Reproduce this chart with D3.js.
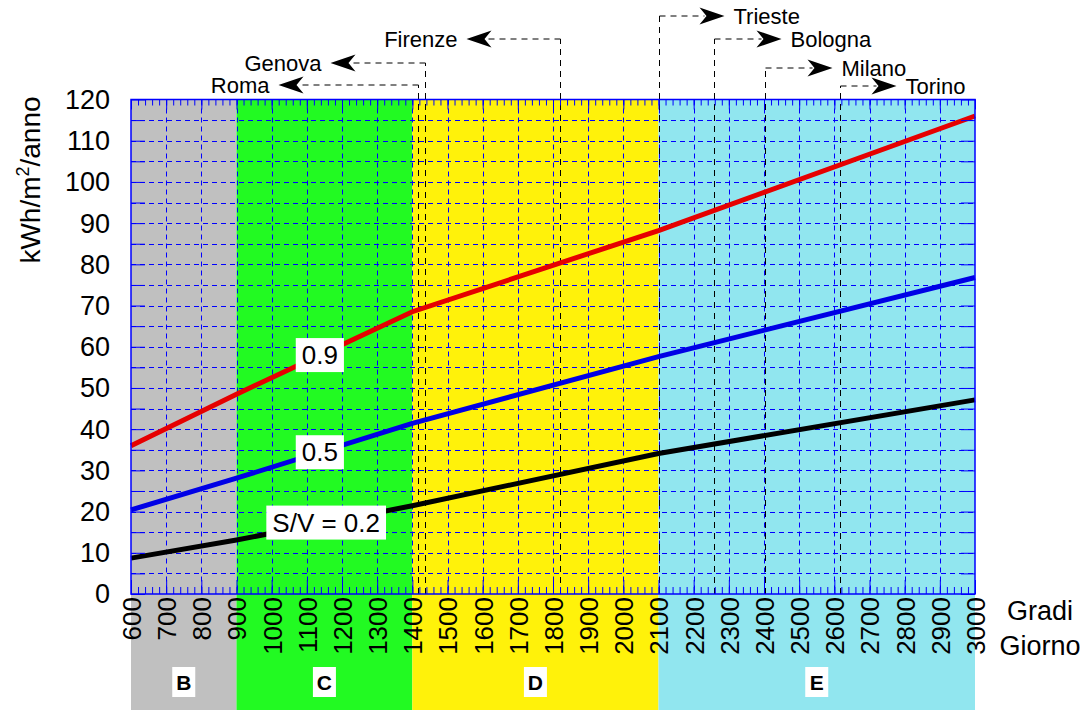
<!DOCTYPE html>
<html>
<head>
<meta charset="utf-8">
<script src="https://cdn.jsdelivr.net/npm/d3@7"></script>
<style>
  body { margin: 0; background: #fff; }
  svg { font-family: "Liberation Sans", Arial, sans-serif; }
</style>
</head>
<body>
<script>
// gradi giorno breakpoints and the three S/V curves
var gradiGiorno = [600, 900, 1400, 2100, 3000];
var sv09 = [36, 48.5, 68.5, 88.2, 116];
var sv05 = [20.4, 28.1, 41.4, 57.6, 76.8];
var sv02 = [8.7, 13.1, 21.4, 34.1, 47.1];

// climate zones
var zoneNames = ["B", "C", "D", "E"];
var zoneFrom = [600, 900, 1400, 2100];
var zoneTo = [900, 1400, 2100, 3000];
var zoneColors = ["#c0c0c0", "#22fa22", "#fff20a", "#91e6ef"];

// cities and their gradi giorno
var cityNames = ["Roma", "Genova", "Firenze", "Trieste", "Bologna", "Milano", "Torino"];
var cityGG = [1415, 1435, 1821, 2102, 2259, 2404, 2617];

// tick values
var xTicks = d3.range(600, 3001, 100);
var xMinor = d3.range(600, 3001, 20);
var yTicks = d3.range(0, 121, 10);
var yMinor = d3.range(0, 121, 5);

var width = 1085, height = 710;
var plotL = 131, plotR = 975, plotT = 99.5, plotB = 594;

var x = d3.scaleLinear().domain([600, 3000]).range([plotL, plotR]);
var y = d3.scaleLinear().domain([0, 120]).range([plotB, plotT]);

var svg = d3.select("body").append("svg")
  .attr("width", width)
  .attr("height", height);

// zone bands, running down under the tick labels
svg.append("g").selectAll("rect")
  .data(zoneNames)
  .enter().append("rect")
  .attr("x", function(d, i) { return x(zoneFrom[i]); })
  .attr("width", function(d, i) { return x(zoneTo[i]) - x(zoneFrom[i]); })
  .attr("y", plotT)
  .attr("height", height - plotT)
  .attr("fill", function(d, i) { return zoneColors[i]; });

// dashed grid
var grid = svg.append("g")
  .attr("stroke", "#0000ff")
  .attr("stroke-width", 1)
  .attr("stroke-dasharray", "5,4");
grid.selectAll(".gx")
  .data(xTicks.slice(1, -1))
  .enter().append("line")
  .attr("x1", function(d) { return Math.round(x(d)) + 0.5; })
  .attr("x2", function(d) { return Math.round(x(d)) + 0.5; })
  .attr("y1", plotT).attr("y2", plotB);
grid.selectAll(".gy")
  .data(yMinor.slice(1, -1))
  .enter().append("line")
  .attr("y1", function(d) { return Math.round(y(d)) + 0.5; })
  .attr("y2", function(d) { return Math.round(y(d)) + 0.5; })
  .attr("x1", plotL).attr("x2", plotR);

// city annotation layout: level above the plot and where the arrow tip lands
var cityLevel = [85, 63, 39, 16, 39, 68, 86];
var cityReach = [-140, -95, -94, 65, 67, 67, 56];

var cities = svg.append("g");
cityNames.forEach(function(name, i) {
  var cx = Math.round(x(cityGG[i])) + 0.5;
  var ly = cityLevel[i];
  var dir = cityReach[i] < 0 ? -1 : 1;
  var tip = cx + cityReach[i];
  cities.append("line")
    .attr("x1", cx).attr("x2", cx)
    .attr("y1", plotB).attr("y2", ly)
    .attr("stroke", "#000").attr("stroke-width", 1)
    .attr("stroke-dasharray", "6,5");
  cities.append("line")
    .attr("x1", cx).attr("x2", tip - dir * 20)
    .attr("y1", ly).attr("y2", ly)
    .attr("stroke", "#000").attr("stroke-width", 1)
    .attr("stroke-dasharray", "6,5");
  cities.append("path")
    .attr("transform", "translate(" + tip + "," + ly + ") scale(" + (-dir) + ",1)")
    .attr("d", "M0,0 L25,-8.5 L18,0 L25,8.5 Z")
    .attr("fill", "#000");
  cities.append("text")
    .attr("x", tip + dir * 9)
    .attr("y", ly)
    .attr("dy", "0.35em")
    .attr("text-anchor", dir < 0 ? "end" : "start")
    .attr("font-size", 22)
    .text(name);
});

// curves
var curves = [
  { values: sv09, color: "#e60000", label: "0.9", at: 1137 },
  { values: sv05, color: "#0000e6", label: "0.5", at: 1137 },
  { values: sv02, color: "#000000", label: "S/V = 0.2", at: 1155 }
];
var line = d3.line()
  .x(function(d) { return x(d[0]); })
  .y(function(d) { return y(d[1]); });

curves.forEach(function(c) {
  svg.append("path")
    .datum(d3.zip(gradiGiorno, c.values))
    .attr("d", line)
    .attr("fill", "none")
    .attr("stroke", c.color)
    .attr("stroke-width", 5);
});

// white boxed curve labels sitting on the curves
curves.forEach(function(c) {
  var v = d3.scaleLinear().domain(gradiGiorno).range(c.values)(c.at);
  var g = svg.append("g")
    .attr("transform", "translate(" + x(c.at) + "," + y(v) + ")");
  var t = g.append("text")
    .attr("text-anchor", "middle")
    .attr("dy", "0.35em")
    .attr("font-size", 26)
    .text(c.label);
  var bb = t.node().getBBox();
  g.insert("rect", "text")
    .attr("x", bb.x - 6).attr("width", bb.width + 12)
    .attr("y", -17).attr("height", 34)
    .attr("fill", "#fff");
});

// inward ticks on all four sides
function ticks(axis, transform) {
  var g = svg.append("g").attr("transform", transform).call(axis);
  g.select(".domain").remove();
  g.selectAll("line").attr("stroke", "#0000ff").attr("stroke-width", 1);
  return g;
}
ticks(d3.axisTop(x).tickValues(xMinor).tickSize(7).tickFormat(""), "translate(0," + plotB + ")");
ticks(d3.axisTop(x).tickValues(xTicks).tickSize(14).tickFormat(""), "translate(0," + plotB + ")");
ticks(d3.axisBottom(x).tickValues(xMinor).tickSize(6).tickFormat(""), "translate(0," + plotT + ")");
ticks(d3.axisBottom(x).tickValues(xTicks).tickSize(10).tickFormat(""), "translate(0," + plotT + ")");
ticks(d3.axisRight(y).tickValues(yMinor).tickSize(14).tickFormat(""), "translate(" + plotL + ",0)");
ticks(d3.axisLeft(y).tickValues(yMinor).tickSize(14).tickFormat(""), "translate(" + plotR + ",0)");

// frame
svg.append("rect")
  .attr("x", plotL).attr("y", plotT)
  .attr("width", plotR - plotL).attr("height", plotB - plotT)
  .attr("fill", "none")
  .attr("stroke", "#0000ff")
  .attr("stroke-width", 1.5);

// tick labels
var xLab = svg.append("g")
  .attr("transform", "translate(0," + plotB + ")")
  .call(d3.axisBottom(x).tickValues(xTicks).tickSize(0).tickFormat(d3.format("d")));
xLab.select(".domain").remove();
xLab.selectAll("text")
  .attr("font-size", 26)
  .attr("font-family", null)
  .attr("fill", "#000")
  .attr("transform", "rotate(-90)")
  .attr("text-anchor", "end")
  .attr("x", -3)
  .attr("y", 0)
  .attr("dy", "0.36em");

var yLab = svg.append("g")
  .attr("transform", "translate(" + plotL + ",0)")
  .call(d3.axisLeft(y).tickValues(yTicks).tickSize(0).tickPadding(21));
yLab.select(".domain").remove();
yLab.selectAll("text")
  .attr("font-size", 27)
  .attr("font-family", null)
  .attr("fill", "#000")
  .attr("dy", "0.33em");

// axis titles
var yTitle = svg.append("text")
  .attr("transform", "translate(40,180) rotate(-90)")
  .attr("text-anchor", "middle")
  .attr("font-size", 28);
yTitle.append("tspan").text("kWh/m");
yTitle.append("tspan").attr("font-size", 18).attr("dy", -11).text("2");
yTitle.append("tspan").attr("dy", 11).text("/anno");

svg.append("text")
  .attr("x", 1040).attr("y", 620)
  .attr("text-anchor", "middle")
  .attr("font-size", 27)
  .text("Gradi");
svg.append("text")
  .attr("x", 1040).attr("y", 655)
  .attr("text-anchor", "middle")
  .attr("font-size", 27)
  .text("Giorno");

// zone letters in white boxes
var zl = svg.append("g").selectAll("g")
  .data(zoneNames)
  .enter().append("g")
  .attr("transform", function(d, i) { return "translate(" + x((zoneFrom[i] + zoneTo[i]) / 2) + ",682)"; });
zl.append("rect")
  .attr("x", -11.5).attr("y", -15)
  .attr("width", 23).attr("height", 30)
  .attr("fill", "#fff");
zl.append("text")
  .attr("text-anchor", "middle")
  .attr("dy", "0.36em")
  .attr("font-size", 21)
  .attr("font-weight", "bold")
  .text(function(d) { return d; });
</script>
</body>
</html>
